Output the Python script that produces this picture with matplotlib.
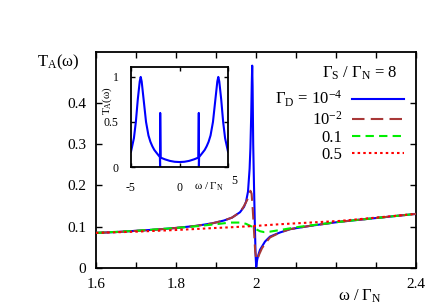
import matplotlib
matplotlib.use("Agg")
import matplotlib.pyplot as plt

plt.rcParams['font.family'] = ['Liberation Serif', 'DejaVu Serif']
plt.rcParams['mathtext.fontset'] = 'custom'
plt.rcParams['mathtext.rm'] = 'Liberation Serif'
plt.rcParams['mathtext.it'] = 'Liberation Serif'
plt.rcParams['mathtext.default'] = 'regular'

# ---- data ----
x_1e4 = [1.60, 1.65, 1.70, 1.75, 1.80, 1.85, 1.89, 1.92, 1.94, 1.96, 1.97, 1.975,
         1.98, 1.984, 1.986, 1.988, 1.9895, 1.9905, 1.9915, 1.993, 1.995, 1.997,
         1.999, 2.0005, 2.003, 2.006, 2.01, 2.0225, 2.035, 2.06, 2.085, 2.135,
         2.21, 2.30, 2.40]
y_1e4 = [0.085, 0.087, 0.090, 0.093, 0.097, 0.102, 0.108, 0.115, 0.122, 0.135,
         0.148, 0.160, 0.185, 0.240, 0.290, 0.370, 0.450, 0.490, 0.440, 0.300,
         0.200, 0.110, 0.030, 0.003, 0.020, 0.032, 0.044, 0.064, 0.076, 0.086,
         0.094, 0.102, 0.112, 0.121, 0.131]

x_1e2 = [1.60, 1.65, 1.70, 1.75, 1.80, 1.85, 1.89, 1.92, 1.94, 1.96, 1.97,
         1.978, 1.983, 1.986, 1.989, 1.992, 1.995, 1.998, 2.001, 2.004, 2.008,
         2.015, 2.025, 2.035, 2.06, 2.085, 2.135, 2.21, 2.30, 2.40]
y_1e2 = [0.085, 0.087, 0.090, 0.093, 0.097, 0.102, 0.108, 0.115, 0.122, 0.135,
         0.150, 0.165, 0.178, 0.187, 0.180, 0.140, 0.090, 0.040, 0.020, 0.022,
         0.033, 0.048, 0.062, 0.074, 0.086, 0.094, 0.102, 0.112, 0.121, 0.131]

x_01 = [1.60, 1.70, 1.80, 1.85, 1.90, 1.935, 1.96, 1.975, 1.99, 2.00, 2.01,
        2.02, 2.035, 2.06, 2.085, 2.11, 2.135, 2.21, 2.30, 2.40]
y_01 = [0.085, 0.090, 0.097, 0.101, 0.106, 0.110, 0.110, 0.107, 0.100, 0.094,
        0.089, 0.087, 0.088, 0.092, 0.096, 0.100, 0.103, 0.112, 0.121, 0.131]

x_05 = [1.60, 1.70, 1.80, 1.90, 1.935, 2.00, 2.06, 2.135, 2.21, 2.30, 2.40]
y_05 = [0.085, 0.088, 0.092, 0.097, 0.0985, 0.102, 0.106, 0.110, 0.114, 0.122, 0.131]

x_inset = [-5.0, -4.7, -4.5, -4.3, -4.1, -4.0, -3.9, -3.7, -3.45, -3.2, -3.0,
           -2.8, -2.6, -2.35, -2.02, -2.0, -1.99, -1.95, -1.8, -1.5, -1.0, -0.5,
           0.0, 0.5, 1.0, 1.5, 1.8, 1.95, 1.99, 2.0, 2.02, 2.35, 2.6, 2.8, 3.0,
           3.2, 3.45, 3.7, 3.9, 4.0, 4.1, 4.3, 4.5, 4.7, 5.0]
y_inset = [0.17, 0.32, 0.50, 0.75, 0.95, 1.00, 0.95, 0.75, 0.50, 0.35, 0.28,
           0.23, 0.19, 0.155, 0.11, 0.0, 0.60, 0.105, 0.098, 0.085, 0.068, 0.058,
           0.055, 0.058, 0.068, 0.085, 0.098, 0.105, 0.60, 0.0, 0.11, 0.155, 0.19,
           0.23, 0.28, 0.35, 0.50, 0.75, 0.95, 1.00, 0.95, 0.75, 0.50, 0.32, 0.17]

labels = [r'$\Gamma_D$ = 10$^{-4}$', r'10$^{-2}$', '0.1', '0.5']
legend_title = r'$\Gamma_S$ / $\Gamma_N$ = 8'

xticks = [1.6, 1.7, 1.8, 1.9, 2.0, 2.1, 2.2, 2.3, 2.4]
xticklabels = ['1.6', '', '1.8', '', '2', '', '', '', '2.4']
yticks = [0, 0.1, 0.2, 0.3, 0.4]
yticklabels = ['0', '0.1', '0.2', '0.3', '0.4']

inset_xticks = [-5, 0, 5]
inset_xticklabels = ['-5', '0', '']
inset_yticks = [0, 0.5, 1]
inset_yticklabels = ['0', '0.5', '1']

# ---- figure ----
W, H = 436, 305
fig = plt.figure(figsize=(W / 100, H / 100), dpi=100)
ax = fig.add_axes([96 / W, 1 - 268 / H, 320 / W, 216 / H])

ax.plot(x_1e4, y_1e4, color='#0000ff', lw=1.5, label=labels[0], zorder=3)
ax.plot(x_1e2, y_1e2, color='#a83838', lw=1.5, dashes=(6, 3), label=labels[1], zorder=4)
ax.plot(x_01, y_01, color='#00ee00', lw=1.5, dashes=(4, 2.5), label=labels[2], zorder=5)
ax.plot(x_05, y_05, color='#ff0000', lw=1.5, dashes=(1.2, 1.5), label=labels[3], zorder=6)

ax.set_xlim(1.6, 2.4)
ax.set_ylim(0, 0.523)
ax.set_xticks(xticks)
ax.set_xticklabels(xticklabels)
ax.set_yticks(yticks)
ax.set_yticklabels(yticklabels)
ax.tick_params(direction='in', top=True, right=True, length=4, width=1,
               labelsize=11, pad=7)
for s in ax.spines.values():
    s.set_linewidth(1.3)

fig.text(58 / W, 1 - 62 / H, r'T$_A$($\omega$)', fontsize=12, ha='center', va='center')
fig.text(360 / W, 1 - 296 / H, r'$\omega$ / $\Gamma_N$', fontsize=12, ha='center', va='center')

leg = ax.legend(loc='upper right', bbox_to_anchor=(404 / W, 1 - 89 / H),
                bbox_transform=fig.transFigure, markerfirst=False, frameon=False,
                fontsize=12, handlelength=3.1, handletextpad=0.6,
                labelspacing=0.08, borderpad=0, borderaxespad=0)
fig.text(398 / W, 1 - 73 / H, legend_title, fontsize=12, ha='right', va='center')

# ---- inset ----
axi = fig.add_axes([131 / W, 1 - 167 / H, 97 / W, 100 / H])
axi.plot(x_inset, y_inset, color='#0000ff', lw=1.5)
axi.set_xlim(-5, 5)
axi.set_ylim(0, 1.11)
axi.set_xticks(inset_xticks)
axi.set_xticklabels(inset_xticklabels)
axi.set_yticks(inset_yticks)
axi.set_yticklabels(inset_yticklabels)
axi.tick_params(direction='in', top=True, right=True, length=3, width=1,
                labelsize=8.5)
axi.tick_params(axis='y', pad=9)
axi.tick_params(axis='x', pad=11)
for s in axi.spines.values():
    s.set_linewidth(1.3)
# label of the +5 tick, drawn slightly raised as in the original
axi.text(1.06, -0.14, '5', transform=axi.transAxes, fontsize=8.5,
         ha='center', va='center')
axi.text(0.80, -0.20, r'$\omega$ / $\Gamma_N$', transform=axi.transAxes,
         fontsize=8, ha='center', va='center')
axi.text(-0.24, 0.66, r'T$_A$($\omega$)', transform=axi.transAxes,
         fontsize=8, ha='center', va='center', rotation=90)

fig.savefig('out.png', dpi=100)
